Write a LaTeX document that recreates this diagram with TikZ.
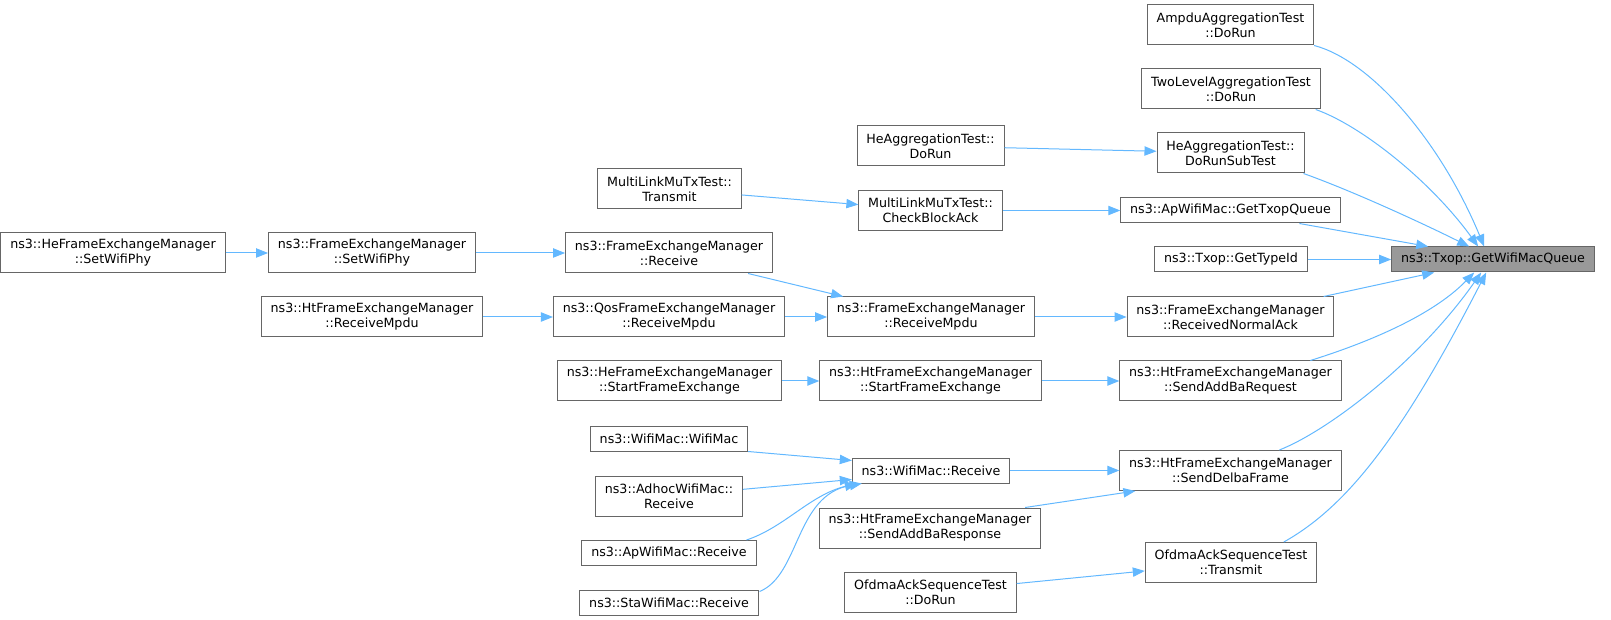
\documentclass[tikz,border=0pt]{standalone}
\usepackage{fontspec}
\newfontfamily\dejavu{DejaVu Sans}
\usetikzlibrary{arrows.meta,calc}
\definecolor{edgeblue}{HTML}{63B8FF}
\definecolor{boxgrey}{HTML}{666666}
\definecolor{focusgrey}{HTML}{999999}

\begin{document}
\begin{tikzpicture}[x=0.75pt,y=-0.75pt,>={Triangle[length=9pt,width=7pt]},
fn/.style={rectangle, draw=boxgrey, fill=white, line width=0.75pt, align=center, inner xsep=7pt, inner ysep=0pt,
  font=\dejavu\fontsize{9.5}{11.25}\selectfont, minimum height=18.75pt},
fntwo/.style={fn, minimum height=30pt},
focus/.style={fn, fill=focusgrey},
call/.style={draw=edgeblue, line width=0.75pt, ->}]

\useasboundingbox (0,0) rectangle (1611,620);

\draw (1493,259.5) node[focus] (Queue) {ns3::Txop::GetWifiMacQueue};
\draw (1230.5,25) node[fntwo] (Ampdu) {AmpduAggregationTest\\::DoRun};
\draw (1231,89) node[fntwo] (TwoLevel) {TwoLevelAggregationTest\\::DoRun};
\draw (1230.5,153) node[fntwo] (HeSub) {HeAggregationTest::\\DoRunSubTest};
\draw (1230.5,210.5) node[fn] (ApTxop) {ns3::ApWifiMac::GetTxopQueue};
\draw (1231,259.5) node[fn] (TypeId) {ns3::Txop::GetTypeId};
\draw (1230.5,317) node[fntwo] (NormalAck) {ns3::FrameExchangeManager\\::ReceivedNormalAck};
\draw (1230.5,381) node[fntwo] (AddBaReq) {ns3::HtFrameExchangeManager\\::SendAddBaRequest};
\draw (1230.5,470.5) node[fntwo] (Delba) {ns3::HtFrameExchangeManager\\::SendDelbaFrame};
\draw (1231,562.5) node[fntwo] (OfdmaTx) {OfdmaAckSequenceTest\\::Transmit};

\draw (930.5,146) node[fntwo] (HeRun) {HeAggregationTest::\\DoRun};
\draw (669.5,189) node[fntwo] (MlTx) {MultiLinkMuTxTest::\\Transmit};
\draw (930.5,210.5) node[fntwo] (MlAck) {MultiLinkMuTxTest::\\CheckBlockAck};
\draw (113,253) node[fntwo] (HePhy) {ns3::HeFrameExchangeManager\\::SetWifiPhy};
\draw (372,253) node[fntwo] (FemPhy) {ns3::FrameExchangeManager\\::SetWifiPhy};
\draw (669,253) node[fntwo] (FemRx) {ns3::FrameExchangeManager\\::Receive};
\draw (372,317) node[fntwo] (HtMpdu) {ns3::HtFrameExchangeManager\\::ReceiveMpdu};
\draw (669,317) node[fntwo] (QosMpdu) {ns3::QosFrameExchangeManager\\::ReceiveMpdu};
\draw (931,317) node[fntwo] (FemMpdu) {ns3::FrameExchangeManager\\::ReceiveMpdu};
\draw (669.5,381) node[fntwo] (HeStart) {ns3::HeFrameExchangeManager\\::StartFrameExchange};
\draw (930.5,381) node[fntwo] (HtStart) {ns3::HtFrameExchangeManager\\::StartFrameExchange};
\draw (669,438.5) node[fn] (MacCtor) {ns3::WifiMac::WifiMac};
\draw (931,470.5) node[fn] (MacRx) {ns3::WifiMac::Receive};
\draw (669,496) node[fntwo] (AdhocRx) {ns3::AdhocWifiMac::\\Receive};
\draw (930,528) node[fntwo] (AddBaResp) {ns3::HtFrameExchangeManager\\::SendAddBaResponse};
\draw (669,553) node[fn] (ApRx) {ns3::ApWifiMac::Receive};
\draw (669,602.5) node[fn] (StaRx) {ns3::StaWifiMac::Receive};
\draw (930.5,592) node[fntwo] (OfdmaRun) {OfdmaAckSequenceTest\\::DoRun};

% callers of GetWifiMacQueue
\draw[call] (Ampdu.south east) .. controls (1370,60) and (1440,140) .. ($(Queue.north west)+(93,0)$);
\draw[call] ($(TwoLevel.south east)+(-5,0)$) .. controls (1360,125) and (1430,180) .. ($(Queue.north west)+(87,0)$);
\draw[call] ($(HeSub.south east)+(-1,0)$) .. controls (1350,190) and (1420,222) .. ($(Queue.north west)+(78,0)$);
\draw[call] ($(ApTxop.south west)+(179,0)$) -- ($(Queue.north west)+(37,0)$);
\draw[call] (TypeId) -- (Queue);
\draw[call] ($(NormalAck.north west)+(197,0)$) -- ($(Queue.south west)+(43,0)$);
\draw[call] ($(AddBaReq.north west)+(191,0)$) .. controls (1360,345) and (1430,318) .. ($(Queue.south west)+(83,0)$);
\draw[call] ($(Delba.north west)+(160,0)$) .. controls (1330,430) and (1420,360) .. ($(Queue.south west)+(90,0)$);
\draw[call] ($(OfdmaTx.north west)+(139,0)$) .. controls (1350,505) and (1405,430) .. ($(Queue.south west)+(95,0)$);

% second level
\draw[call] (HeRun) -- (HeSub);
\draw[call] (MlTx) -- (MlAck);
\draw[call] (MlAck) -- (ApTxop);
\draw[call] (HePhy) -- (FemPhy);
\draw[call] (FemPhy) -- (FemRx);
\draw[call] ($(FemRx.south west)+(183,0)$) -- ($(FemMpdu.north west)+(16,0)$);
\draw[call] (HtMpdu) -- (QosMpdu);
\draw[call] (QosMpdu) -- (FemMpdu);
\draw[call] (FemMpdu) -- (NormalAck);
\draw[call] (HeStart) -- (HtStart);
\draw[call] (HtStart) -- (AddBaReq);
\draw[call] (MacCtor.south east) -- ($(MacRx.north west)+(0,3)$);
\draw[call] (AdhocRx) -- ($(MacRx.south west)+(0,-4)$);
\draw[call] ($(ApRx.north east)+(-10,0)$) .. controls (785,527) and (810,495) .. ($(MacRx.south west)+(5,0)$);
\draw[call] ($(StaRx.north east)+(1,2)$) .. controls (800,575) and (795,495) .. ($(MacRx.south west)+(10,0)$);
\draw[call] (MacRx) -- (Delba);
\draw[call] ($(AddBaResp.north east)+(-16,0)$) -- ($(Delba.south west)+(16,0)$);
\draw[call] (OfdmaRun) -- (OfdmaTx);

\end{tikzpicture}
\end{document}
